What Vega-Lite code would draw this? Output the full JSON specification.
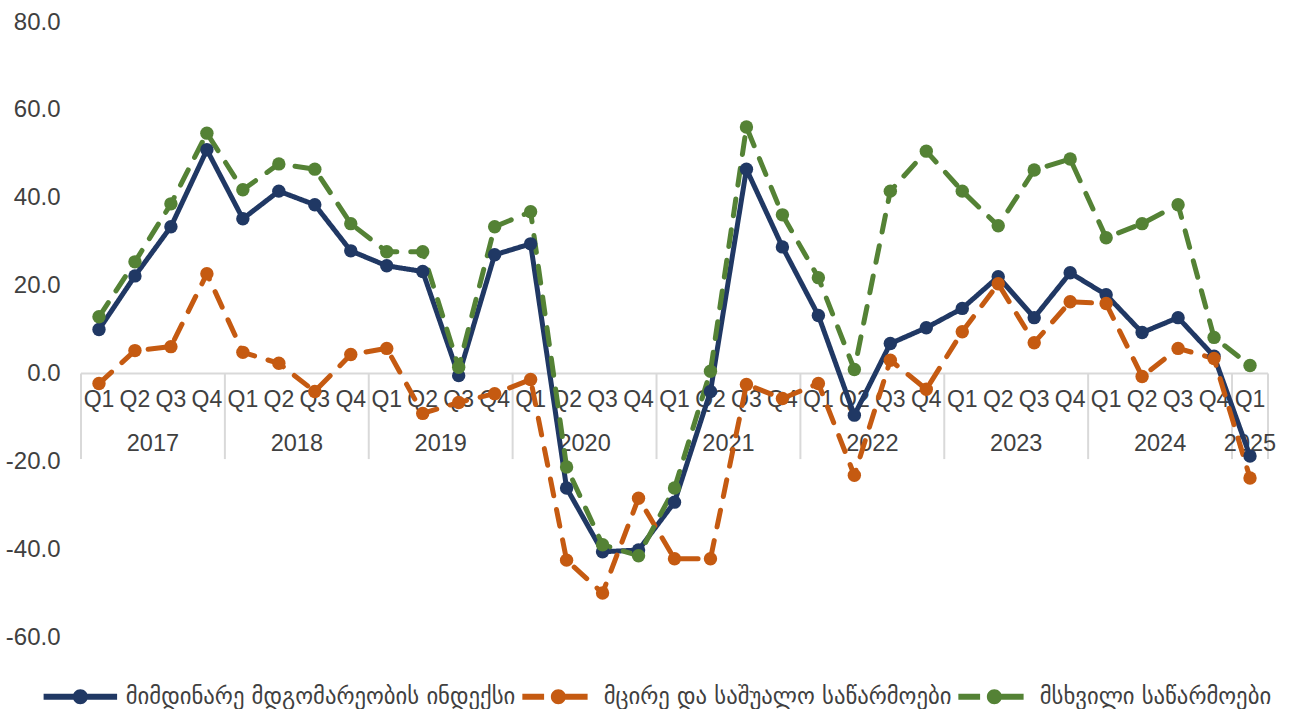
{
  "$schema": "https://vega.github.io/schema/vega-lite/v6.json",
  "width": 1187,
  "height": 615,
  "autosize": {"type": "none"},
  "padding": {"left": 81, "top": 22, "right": 21, "bottom": 72},
  "background": "white",
  "config": {"view": {"stroke": null}},
  "data": {"values": [
    {"i": 0, "q": "Q1", "yr": "2017", "a": 10.0, "b": -2.3, "c": 12.9},
    {"i": 1, "q": "Q2", "yr": "2017", "a": 22.2, "b": 5.2, "c": 25.4},
    {"i": 2, "q": "Q3", "yr": "2017", "a": 33.4, "b": 6.1, "c": 38.6},
    {"i": 3, "q": "Q4", "yr": "2017", "a": 50.9, "b": 22.7, "c": 54.7},
    {"i": 4, "q": "Q1", "yr": "2018", "a": 35.2, "b": 4.8, "c": 41.8},
    {"i": 5, "q": "Q2", "yr": "2018", "a": 41.5, "b": 2.3, "c": 47.7},
    {"i": 6, "q": "Q3", "yr": "2018", "a": 38.4, "b": -4.1, "c": 46.5},
    {"i": 7, "q": "Q4", "yr": "2018", "a": 27.9, "b": 4.3, "c": 34.1},
    {"i": 8, "q": "Q1", "yr": "2019", "a": 24.5, "b": 5.7, "c": 27.7},
    {"i": 9, "q": "Q2", "yr": "2019", "a": 23.2, "b": -9.1, "c": 27.7},
    {"i": 10, "q": "Q3", "yr": "2019", "a": -0.5, "b": -6.6, "c": 1.4},
    {"i": 11, "q": "Q4", "yr": "2019", "a": 27.0, "b": -4.6, "c": 33.4},
    {"i": 12, "q": "Q1", "yr": "2020", "a": 29.5, "b": -1.4, "c": 36.8},
    {"i": 13, "q": "Q2", "yr": "2020", "a": -26.1, "b": -42.5, "c": -21.3},
    {"i": 14, "q": "Q3", "yr": "2020", "a": -40.6, "b": -50.0, "c": -39.0},
    {"i": 15, "q": "Q4", "yr": "2020", "a": -40.2, "b": -28.4, "c": -41.5},
    {"i": 16, "q": "Q1", "yr": "2021", "a": -29.3, "b": -42.2, "c": -26.1},
    {"i": 17, "q": "Q2", "yr": "2021", "a": -4.1, "b": -42.2, "c": 0.5},
    {"i": 18, "q": "Q3", "yr": "2021", "a": 46.5, "b": -2.5, "c": 56.1},
    {"i": 19, "q": "Q4", "yr": "2021", "a": 28.8, "b": -5.7, "c": 36.1},
    {"i": 20, "q": "Q1", "yr": "2022", "a": 13.2, "b": -2.3, "c": 21.8},
    {"i": 21, "q": "Q2", "yr": "2022", "a": -9.5, "b": -23.2, "c": 0.9},
    {"i": 22, "q": "Q3", "yr": "2022", "a": 6.8, "b": 3.0, "c": 41.5},
    {"i": 23, "q": "Q4", "yr": "2022", "a": 10.4, "b": -3.6, "c": 50.6},
    {"i": 24, "q": "Q1", "yr": "2023", "a": 14.8, "b": 9.5, "c": 41.5},
    {"i": 25, "q": "Q2", "yr": "2023", "a": 22.0, "b": 20.4, "c": 33.6},
    {"i": 26, "q": "Q3", "yr": "2023", "a": 12.7, "b": 7.0, "c": 46.3},
    {"i": 27, "q": "Q4", "yr": "2023", "a": 22.9, "b": 16.3, "c": 48.8},
    {"i": 28, "q": "Q1", "yr": "2024", "a": 17.9, "b": 15.9, "c": 30.9},
    {"i": 29, "q": "Q2", "yr": "2024", "a": 9.3, "b": -0.7, "c": 34.1},
    {"i": 30, "q": "Q3", "yr": "2024", "a": 12.7, "b": 5.7, "c": 38.4},
    {"i": 31, "q": "Q4", "yr": "2024", "a": 3.9, "b": 3.4, "c": 8.2},
    {"i": 32, "q": "Q1", "yr": "2025", "a": -18.8, "b": -23.8, "c": 1.8}
  ]},
  "encoding": {
    "x": {"field": "i", "type": "ordinal", "axis": null, "scale": {"type": "band", "paddingInner": 0, "paddingOuter": 0}}
  },
  "layer": [
    {
      "transform": [{"filter": "datum.i == 0"}],
      "mark": {"type": "rule", "color": "#d9d9d9", "strokeWidth": 2},
      "encoding": {
        "x": null,
        "y": {"datum": 0, "type": "quantitative", "scale": {"domain": [-60, 80], "nice": false, "zero": false},
          "axis": {"values": [-60, -40, -20, 0, 20, 40, 60, 80], "labelExpr": "replace(format(datum.value, '.1f'), '\u2212', '-')",
            "domain": false, "ticks": false, "grid": false, "title": null, "labelFont": "Liberation Sans", "labelFontSize": 24,
            "labelColor": "#404040", "labelPadding": 21}}
      }
    },
    {
      "transform": [{"filter": "datum.q == 'Q1'"}],
      "mark": {"type": "rule", "color": "#d9d9d9", "strokeWidth": 2},
      "encoding": {
        "x": {"field": "i", "type": "ordinal", "bandPosition": 0},
        "y": {"datum": 0, "type": "quantitative"},
        "y2": {"datum": -19.5}
      }
    },
    {
      "transform": [{"filter": "datum.i == 32"}],
      "mark": {"type": "rule", "color": "#d9d9d9", "strokeWidth": 2},
      "encoding": {
        "x": {"field": "i", "type": "ordinal", "bandPosition": 1},
        "y": {"datum": 0, "type": "quantitative"},
        "y2": {"datum": -19.5}
      }
    },
    {
      "mark": {"type": "text", "font": "Liberation Sans", "fontSize": 23, "color": "#404040", "baseline": "middle", "align": "center"},
      "encoding": {
        "y": {"datum": -6.1, "type": "quantitative"},
        "text": {"field": "q"}
      }
    },
    {
      "transform": [{"filter": "datum.q == 'Q2'"}],
      "mark": {"type": "text", "font": "Liberation Sans", "fontSize": 23.5, "color": "#404040", "baseline": "middle", "align": "center"},
      "encoding": {
        "x": {"field": "i", "type": "ordinal", "bandPosition": 1},
        "y": {"datum": -16.1, "type": "quantitative"},
        "text": {"field": "yr"}
      }
    },
    {
      "transform": [{"filter": "datum.i == 32"}],
      "mark": {"type": "text", "font": "Liberation Sans", "fontSize": 23.5, "color": "#404040", "baseline": "middle", "align": "center"},
      "encoding": {
        "y": {"datum": -16.1, "type": "quantitative"},
        "text": {"field": "yr"}
      }
    },
    {
      "transform": [{"fold": ["a", "b", "c"], "as": ["s", "v"]}],
      "mark": {"type": "line", "strokeWidth": 5, "strokeCap": "round", "strokeJoin": "round", "point": {"filled": true, "size": 180, "opacity": 1}},
      "encoding": {
        "y": {"field": "v", "type": "quantitative"},
        "color": {"field": "s", "type": "nominal",
          "scale": {"domain": ["a", "b", "c"], "range": ["#203864", "#C55A11", "#548235"]},
          "legend": {
            "orient": "none", "legendX": -12, "legendY": 663, "direction": "horizontal", "title": null,
            "labelExpr": "datum.label == 'a' ? 'მიმდინარე მდგომარეობის ინდექსი' : datum.label == 'b' ? 'მცირე და საშუალო საწარმოები' : 'მსხვილი საწარმოები'",
            "labelFont": "DejaVu Sans", "labelFontSize": 22.7, "labelColor": "#404040", "labelLimit": 1000,
            "symbolSize": 225, "symbolStrokeWidth": 0, "labelOffset": 34, "columnPadding": 6,
            "encode": {"symbols": {"update": {
              "shape": {"signal": "datum.value == 'a' ? 'M-4.9,-0.4L-0.9,-0.4L-0.9,0.4L-4.9,0.4Z M0.9,-0.4L4.9,-0.4L4.9,0.4L0.9,0.4Z M1,0A1,1,0,1,1,-1,0A1,1,0,1,1,1,0Z' : 'M-4.8,-0.4L-1.9,-0.4L-1.9,0.4L-4.8,0.4Z M0.9,-0.4L3.9,-0.4L3.9,0.4L0.9,0.4Z M1,0A1,1,0,1,1,-1,0A1,1,0,1,1,1,0Z'"},
              "fill": {"scale": "color", "field": "value"},
              "stroke": {"value": "transparent"},
              "opacity": {"value": 1}
            }}}
          }},
        "strokeDash": {"field": "s", "type": "nominal", "legend": null,
          "scale": {"domain": ["a", "b", "c"], "range": [[1, 0], [17, 14], [17, 14]]}}
      }
    }
  ]
}
